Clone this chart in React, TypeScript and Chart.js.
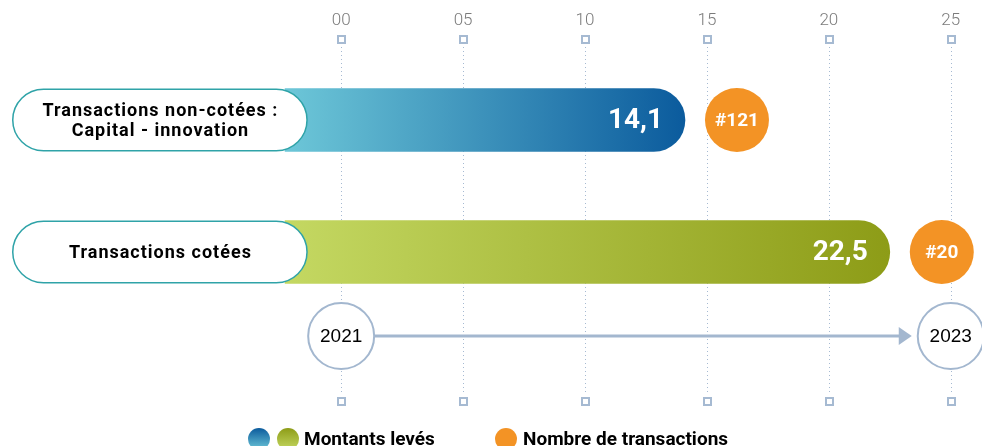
import React, { useEffect, useRef } from "react";
import { Chart, registerables } from "chart.js";

Chart.register(...registerables);

// ---- Data ----
const categories: string[][] = [
  ["Transactions non-cotées :", "Capital - innovation"],
  ["Transactions cotées"],
];
const amounts = [14.1, 22.5];
const amountLabels = ["14,1", "22,5"];
const transactionCounts = ["#121", "#20"];
const tickValues = [0, 5, 10, 15, 20, 25];
const tickLabels = ["00", "05", "10", "15", "20", "25"];
const years = ["2021", "2023"];
const yearValues = [0, 25];
const legendLabels = ["Montants levés", "Nombre de transactions"];
const barBase = -2.3;
const labelEnd = -1.4;

// ---- Styles ----
const gradColors = [
  ["#6dc7d8", "#0b5b9d"],
  ["#c4d862", "#8d9c17"],
];
const ORANGE = "#f39325";
const GRID = "#a6bad2";
const TIMELINE = "#a3b7cf";
const PILL_BORDER = "#2fa3a8";
const FONT = "Roboto, 'Noto Sans', sans-serif";

const decor = {
  id: "decor",
  beforeDatasetsDraw(chart: any) {
    const { ctx, chartArea } = chart;
    const x = chart.scales.x;
    // bar gradients
    const meta = chart.getDatasetMeta(0);
    meta.data.forEach((bar: any, i: number) => {
      const g = ctx.createLinearGradient(bar.base, 0, bar.x, 0);
      g.addColorStop(0, gradColors[i][0]);
      g.addColorStop(1, gradColors[i][1]);
      bar.options.backgroundColor = g;
    });
    ctx.save();
    // dotted grid lines
    ctx.strokeStyle = GRID;
    ctx.lineWidth = 1;
    ctx.setLineDash([1, 3]);
    tickValues.forEach((v) => {
      const px = Math.round(x.getPixelForValue(v)) + 0.5;
      ctx.beginPath();
      ctx.moveTo(px, 47);
      ctx.lineTo(px, 394);
      ctx.stroke();
    });
    ctx.setLineDash([]);
    // tick squares
    ctx.lineWidth = 2;
    tickValues.forEach((v) => {
      const px = Math.round(x.getPixelForValue(v));
      ctx.strokeRect(px - 3, 36, 7, 7);
      ctx.strokeRect(px - 3, 398, 7, 7);
    });
    // tick labels
    ctx.fillStyle = "#7b7b7b";
    ctx.font = `300 17px ${FONT}`;
    ctx.textAlign = "center";
    ctx.textBaseline = "middle";
    tickValues.forEach((v, i) => {
      ctx.fillText(tickLabels[i], x.getPixelForValue(v), 21);
    });
    // timeline
    const ty = chartArea.bottom + 18;
    const r = 33;
    const x0 = x.getPixelForValue(yearValues[0]);
    const x1 = x.getPixelForValue(yearValues[1]);
    const tip = x1 - r - 6;
    ctx.strokeStyle = TIMELINE;
    ctx.lineWidth = 3;
    ctx.beginPath();
    ctx.moveTo(x0 + r, ty);
    ctx.lineTo(tip - 10, ty);
    ctx.stroke();
    ctx.fillStyle = TIMELINE;
    ctx.beginPath();
    ctx.moveTo(tip, ty);
    ctx.lineTo(tip - 13, ty - 9);
    ctx.lineTo(tip - 13, ty + 9);
    ctx.closePath();
    ctx.fill();
    ctx.lineWidth = 2;
    [x0, x1].forEach((cx, i) => {
      ctx.beginPath();
      ctx.arc(cx, ty, r, 0, Math.PI * 2);
      ctx.fillStyle = "#ffffff";
      ctx.fill();
      ctx.strokeStyle = TIMELINE;
      ctx.stroke();
      ctx.fillStyle = "#000000";
      ctx.font = `19px 'Liberation Sans', Arial, sans-serif`;
      ctx.textAlign = "center";
      ctx.textBaseline = "middle";
      ctx.fillText(years[i], cx, ty + 1);
    });
    ctx.restore();
  },
  afterDatasetsDraw(chart: any) {
    const { ctx, chartArea } = chart;
    const x = chart.scales.x;
    const meta = chart.getDatasetMeta(0);
    ctx.save();
    meta.data.forEach((bar: any, i: number) => {
      const h = bar.height;
      const top = bar.y - h / 2;
      // pill label
      const left = chartArea.left + 0.75;
      const right = x.getPixelForValue(labelEnd);
      ctx.beginPath();
      ctx.roundRect(left, top + 0.75, right - left, h - 1.5, (h - 1.5) / 2);
      ctx.fillStyle = "#ffffff";
      ctx.fill();
      ctx.strokeStyle = PILL_BORDER;
      ctx.lineWidth = 1.5;
      ctx.stroke();
      ctx.fillStyle = "#000000";
      ctx.font = `bold 18px ${FONT}`;
      (ctx as any).letterSpacing = "1px";
      ctx.textAlign = "center";
      ctx.textBaseline = "middle";
      const lines = categories[i];
      const cx = (left + right) / 2 + 0.5;
      lines.forEach((ln, k) => {
        ctx.fillText(ln, cx, bar.y + 1 + (k - (lines.length - 1) / 2) * 20);
      });
      (ctx as any).letterSpacing = "0px";
      // value label
      ctx.fillStyle = "#ffffff";
      ctx.font = `bold 28px ${FONT}`;
      ctx.textAlign = "right";
      ctx.fillText(amountLabels[i], bar.x - 22, bar.y + 1);
      // count circle
      const ox = bar.x + 52;
      ctx.beginPath();
      ctx.arc(ox, bar.y, 32, 0, Math.PI * 2);
      ctx.fillStyle = ORANGE;
      ctx.fill();
      ctx.fillStyle = "#ffffff";
      ctx.font = `bold 19px ${FONT}`;
      ctx.textAlign = "center";
      ctx.fillText(transactionCounts[i], ox, bar.y + 1);
    });
    // legend
    const ly = 439;
    const legendCircle = (cx: number, fill: any) => {
      ctx.beginPath();
      ctx.arc(cx, ly, 11, 0, Math.PI * 2);
      ctx.fillStyle = fill;
      ctx.fill();
    };
    const gb = ctx.createLinearGradient(0, ly - 11, 0, ly + 11);
    gb.addColorStop(0, gradColors[0][1]);
    gb.addColorStop(1, gradColors[0][0]);
    legendCircle(259, gb);
    const gg = ctx.createLinearGradient(0, ly - 11, 0, ly + 11);
    gg.addColorStop(0, gradColors[1][1]);
    gg.addColorStop(1, gradColors[1][0]);
    legendCircle(288, gg);
    legendCircle(506, ORANGE);
    ctx.fillStyle = "#000000";
    ctx.font = `bold 19px ${FONT}`;
    ctx.textAlign = "left";
    ctx.textBaseline = "middle";
    ctx.fillText(legendLabels[0], 304, ly + 1);
    ctx.fillText(legendLabels[1], 523, ly + 1);
    ctx.restore();
  },
};

export default function App() {
  const ref = useRef<HTMLCanvasElement | null>(null);
  useEffect(() => {
    if (!ref.current) return;
    const chart = new Chart(ref.current, {
      type: "bar",
      data: {
        labels: categories.map((c) => c.join(" ")),
        datasets: [
          {
            data: amounts,
            base: barBase,
            barThickness: 63,
            borderRadius: 32,
            borderSkipped: "start",
            backgroundColor: gradColors.map((g) => g[1]),
          } as any,
        ],
      },
      options: {
        indexAxis: "y",
        animation: false,
        responsive: false,
        events: [],
        layout: { padding: { left: 12, right: 2, top: 54, bottom: 128 } },
        scales: {
          x: { type: "linear", min: -13.5, max: 26.2, display: false },
          y: { type: "category", display: false },
        },
        plugins: { legend: { display: false }, tooltip: { enabled: false } },
      } as any,
      plugins: [decor],
    });
    return () => chart.destroy();
  }, []);
  return (
    <div
      style={{
        position: "fixed",
        left: 0,
        top: 0,
        width: 982,
        height: 446,
        background: "#ffffff",
        overflow: "hidden",
      }}
    >
      <canvas ref={ref} width={982} height={446} style={{ display: "block" }} />
    </div>
  );
}
